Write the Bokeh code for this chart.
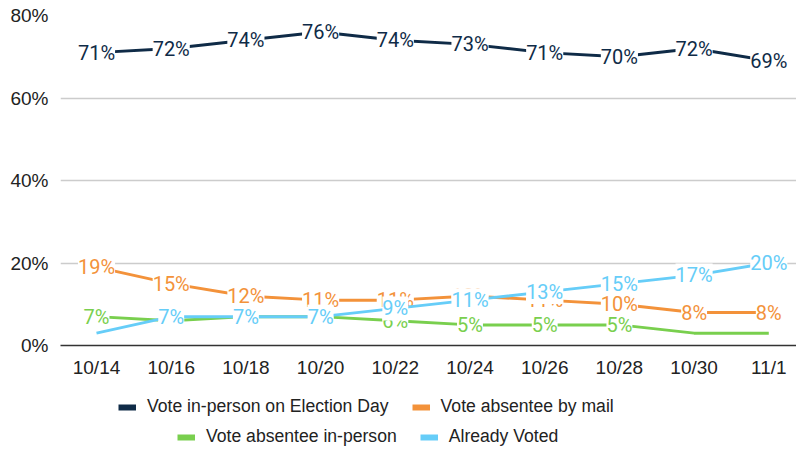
from bokeh.plotting import figure
from bokeh.layouts import column
from bokeh.models import Range1d, FixedTicker, Legend, LegendItem, ColumnDataSource
from bokeh.core.properties import value
from bokeh.embed import file_html
from bokeh.resources import INLINE

dates = ["10/14", "10/16", "10/18", "10/20", "10/22", "10/24", "10/26", "10/28", "10/30", "11/1"]
election_day = [71, 72, 74, 76, 74, 73, 71, 70, 72, 69]
absentee_mail = [19, 15, 12, 11, 11, 12, 11, 10, 8, 8]
absentee_in_person = [7, 6, 7, 7, 6, 5, 5, 5, 3, 3]
already_voted = [3, 7, 7, 7, 9, 11, 13, 15, 17, 20]
# which points carry a visible data label
green_labeled = [1, 1, 1, 1, 1, 1, 1, 1, 0, 0]
blue_labeled = [0, 1, 1, 1, 1, 1, 1, 1, 1, 1]

series = [
    ("Vote in-person on Election Day", election_day, "#0f2b47", [1] * 10),
    ("Vote absentee by mail", absentee_mail, "#f3923a", [1] * 10),
    ("Vote absentee in-person", absentee_in_person, "#79cf4e", green_labeled),
    ("Already Voted", already_voted, "#66cdf8", blue_labeled),
]

xs = list(range(len(dates)))

p = figure(width=796, height=390, output_backend="svg", toolbar_location=None,
           x_range=Range1d(-0.482, 9.371), y_range=Range1d(0, 80),
           min_border_left=60, min_border_right=0, min_border_top=15, min_border_bottom=45)
p.outline_line_color = None
p.background_fill_color = "white"
p.border_fill_color = "white"

# axes
p.xaxis.ticker = FixedTicker(ticks=xs)
p.xaxis.major_label_overrides = {i: d for i, d in enumerate(dates)}
p.xaxis.major_tick_line_color = None
p.xaxis.major_tick_out = 0
p.xaxis.minor_tick_line_color = None
p.xaxis.minor_tick_out = 0
p.xaxis.axis_line_color = "#333333"
p.xaxis.axis_line_width = 1.5
p.xaxis.major_label_standoff = 11
p.xaxis.major_label_text_font = "Liberation Sans"
p.xaxis.major_label_text_font_size = "19px"
p.xaxis.major_label_text_color = "#222222"

p.yaxis.ticker = FixedTicker(ticks=[0, 20, 40, 60, 80])
p.yaxis.major_label_overrides = {v: f"{v}%" for v in [0, 20, 40, 60, 80]}
p.yaxis.axis_line_color = None
p.yaxis.major_tick_line_color = None
p.yaxis.major_tick_out = 0
p.yaxis.minor_tick_line_color = None
p.yaxis.minor_tick_out = 0
p.yaxis.major_label_standoff = 12
p.yaxis.major_label_text_font = "Liberation Sans"
p.yaxis.major_label_text_font_size = "19px"
p.yaxis.major_label_text_color = "#222222"

p.xgrid.grid_line_color = None
p.ygrid.grid_line_color = "#cccccc"
p.ygrid.grid_line_width = 1.5

# legend strip below the chart (its frame is aligned with the chart's frame)
leg = figure(width=796, height=62, output_backend="svg", toolbar_location=None,
             x_range=Range1d(0, 1), y_range=Range1d(0, 1),
             x_axis_type=None, y_axis_type=None,
             min_border_left=0, min_border_right=0, min_border_top=0, min_border_bottom=0)
leg.outline_line_color = None
leg.xgrid.visible = False
leg.ygrid.visible = False

legend_items = []
for name, vals, color, lab in series:
    src = ColumnDataSource(dict(
        x=xs, y=vals,
        t=[f"{v}%" if l else "" for v, l in zip(vals, lab)],
    ))
    p.line("x", "y", source=src, line_color=color, line_width=3)
    p.text("x", "y", text="t", source=src, text_color=color,
           text_font=value("Roboto"), text_font_size="20px",
           text_align="center", text_baseline="middle",
           background_fill_color="white", padding=0)
    # same series in the legend strip (outside its visible range) for the swatch
    sw = leg.line("x", "y", source=src, line_color=color, line_width=6)
    legend_items.append(LegendItem(label=name, renderers=[sw]))


def make_legend(items, loc):
    return Legend(items=items, orientation="horizontal", location=loc,
                  padding=0, margin=0, spacing=23, glyph_width=18, glyph_height=20,
                  label_height=20, label_standoff=11,
                  label_text_font="Liberation Sans", label_text_font_size="17.6px",
                  label_text_color="#222222",
                  border_line_color=None, background_fill_alpha=0)


leg.add_layout(make_legend(legend_items[:2], (58, 35)))
leg.add_layout(make_legend(legend_items[2:], (117, 5)))

layout = column(p, leg, spacing=0)
open("out.html", "w").write(file_html(layout, INLINE))
